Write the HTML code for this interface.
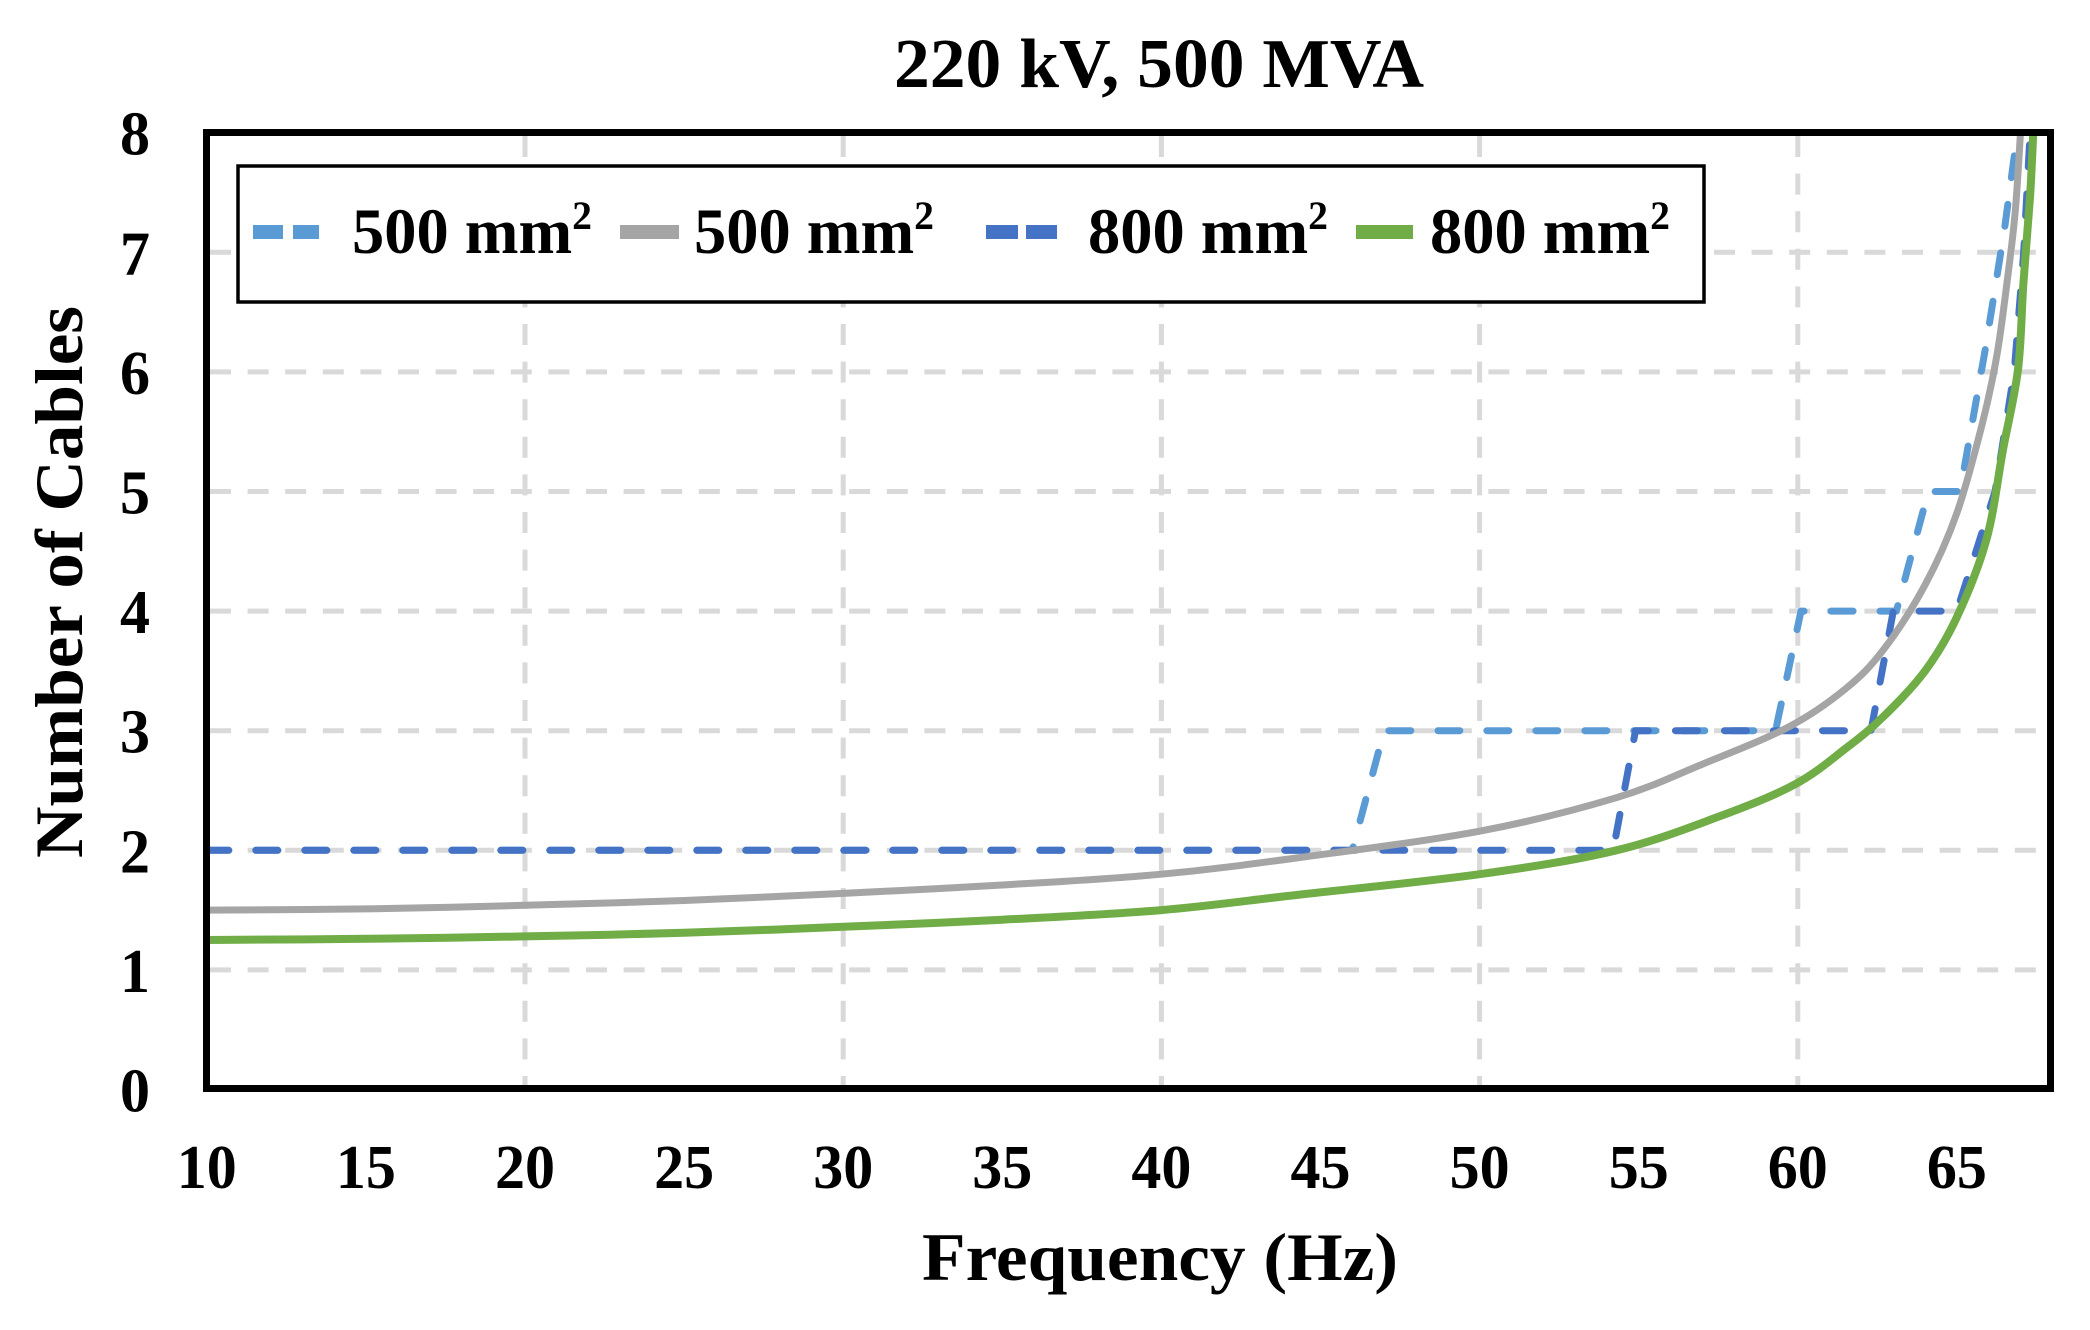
<!DOCTYPE html>
<html><head><meta charset="utf-8"><style>
html,body{margin:0;padding:0;background:#fff;}
svg{display:block;}
svg text{font-family:"Liberation Serif","Times New Roman",Times,serif;font-weight:bold;fill:#000;}
</style></head><body>
<svg id="s" width="2090" height="1330" viewBox="0 0 2090 1330" xmlns="http://www.w3.org/2000/svg" font-family="Liberation Serif, Times New Roman, serif" font-weight="bold">
<rect width="2090" height="1330" fill="#fff"/>
<g id="grid" stroke="#D9D9D9" stroke-width="5" stroke-dasharray="21,16.6" fill="none"></g>
<g id="series" fill="none" stroke-linejoin="round"></g>
<rect x="206.5" y="132.5" width="1844" height="956" fill="none" stroke="#000" stroke-width="7"/>
<rect x="238" y="166" width="1466" height="136" fill="#fff" stroke="#000" stroke-width="3.5"/>
<line x1="253" y1="232" x2="319" y2="232" stroke="#5B9BD5" stroke-width="14" stroke-dasharray="30,10"/>
<text x="352" y="253" font-size="65" textLength="240" lengthAdjust="spacingAndGlyphs">500 mm<tspan font-size="40" dy="-24">2</tspan></text>
<line x1="620" y1="232" x2="679" y2="232" stroke="#A5A5A5" stroke-width="14"/>
<text x="694" y="253" font-size="65" textLength="240" lengthAdjust="spacingAndGlyphs">500 mm<tspan font-size="40" dy="-24">2</tspan></text>
<line x1="986" y1="232" x2="1057" y2="232" stroke="#4472C4" stroke-width="14" stroke-dasharray="32,8"/>
<text x="1088" y="253" font-size="65" textLength="240" lengthAdjust="spacingAndGlyphs">800 mm<tspan font-size="40" dy="-24">2</tspan></text>
<line x1="1356" y1="232" x2="1413" y2="232" stroke="#70AD47" stroke-width="14"/>
<text x="1430" y="253" font-size="65" textLength="240" lengthAdjust="spacingAndGlyphs">800 mm<tspan font-size="40" dy="-24">2</tspan></text>
<text x="894" y="87" font-size="70" textLength="530" lengthAdjust="spacingAndGlyphs">220 kV, 500 MVA</text>
<g id="ticks" font-size="62"></g>
<text x="922" y="1280" font-size="68" textLength="476" lengthAdjust="spacingAndGlyphs">Frequency (Hz)</text>
<text transform="translate(82,858) rotate(-90)" font-size="68" textLength="552" lengthAdjust="spacingAndGlyphs">Number of Cables</text>
</svg>
<script>
var NS="http://www.w3.org/2000/svg";
function X(f){return 206.8+(f-10)*31.82;}
function Y(v){return 1089.5-v*119.6;}
function el(p,tag,a,t){var e=document.createElementNS(NS,tag);for(var k in a)e.setAttribute(k,a[k]);if(t!=null)e.textContent=t;p.appendChild(e);return e;}
var g=document.getElementById('grid'),tk=document.getElementById('ticks'),se=document.getElementById('series');
for(var f=20;f<=60;f+=10)el(g,'line',{x1:X(f),y1:136,x2:X(f),y2:1085});
for(var v=1;v<=7;v++)el(g,'line',{x1:210,y1:Y(v),x2:2047,y2:Y(v)});
for(var f=10;f<=65;f+=5)el(tk,'text',{x:X(f)-30,y:1188,textLength:60,lengthAdjust:'spacingAndGlyphs'},String(f));
for(var v=0;v<=8;v++)el(tk,'text',{x:120,y:Y(v)+22,textLength:30,lengthAdjust:'spacingAndGlyphs'},String(v));
function poly(pts){return pts.map(function(p){return X(p[0]).toFixed(1)+','+Y(p[1]).toFixed(1);}).join(' ');}
function smooth(pts){
  var P=pts.map(function(p){return [X(p[0]),Y(p[1])];});var d='M'+P[0][0]+','+P[0][1];
  for(var i=0;i<P.length-1;i++){var p0=P[Math.max(0,i-1)],p1=P[i],p2=P[i+1],p3=P[Math.min(P.length-1,i+2)];
    var c1=[p1[0]+(p2[0]-p0[0])/6,p1[1]+(p2[1]-p0[1])/6],c2=[p2[0]-(p3[0]-p1[0])/6,p2[1]-(p3[1]-p1[1])/6];
    d+=' C'+c1[0].toFixed(1)+','+c1[1].toFixed(1)+' '+c2[0].toFixed(1)+','+c2[1].toFixed(1)+' '+p2[0].toFixed(1)+','+p2[1].toFixed(1);}
  return d;}
var gray=[[10,1.5],[15,1.51],[20,1.54],[25,1.58],[30,1.64],[35,1.71],[40,1.8],[44.35,1.94],[50,2.16],[54.3,2.44],[57,2.72],[59.7,3.03],[61.5,3.35],[62.7,3.68],[64,4.22],[65,4.82],[65.8,5.57],[66.25,6.13],[66.57,6.74],[66.83,7.33],[67.0,8]];
var green=[[10,1.25],[15,1.26],[20,1.28],[25,1.31],[30,1.36],[35,1.42],[40,1.5],[44.35,1.63],[50,1.8],[54.3,2.0],[57.5,2.28],[59.9,2.55],[61.5,2.85],[62.7,3.12],[64,3.5],[65.0,3.95],[65.93,4.6],[66.45,5.35],[66.92,6.02],[67.09,6.74],[67.3,7.47],[67.4,8]];
var lb=[[10,2],[46.0,2],[47.0,3],[59.3,3],[60.1,4],[63.1,4],[64.1,5],[65.1,5],[65.9,6.2],[66.5,7.2],[66.9,8]];
var db=[[10,2],[54.2,2],[54.9,3],[62.3,3],[63.0,4],[65.0,4],[66.2,5],[66.8,6],[67.1,7],[67.3,8]];
el(se,'polyline',{points:poly(lb),stroke:'#5B9BD5','stroke-width':7,'stroke-dasharray':'22,27','stroke-linecap':'round'});
el(se,'polyline',{points:poly(db),stroke:'#4472C4','stroke-width':7,'stroke-dasharray':'22,27','stroke-linecap':'round'});
el(se,'path',{d:smooth(gray),stroke:'#A5A5A5','stroke-width':7});
el(se,'path',{d:smooth(green),stroke:'#70AD47','stroke-width':8});
</script>
</body></html>
